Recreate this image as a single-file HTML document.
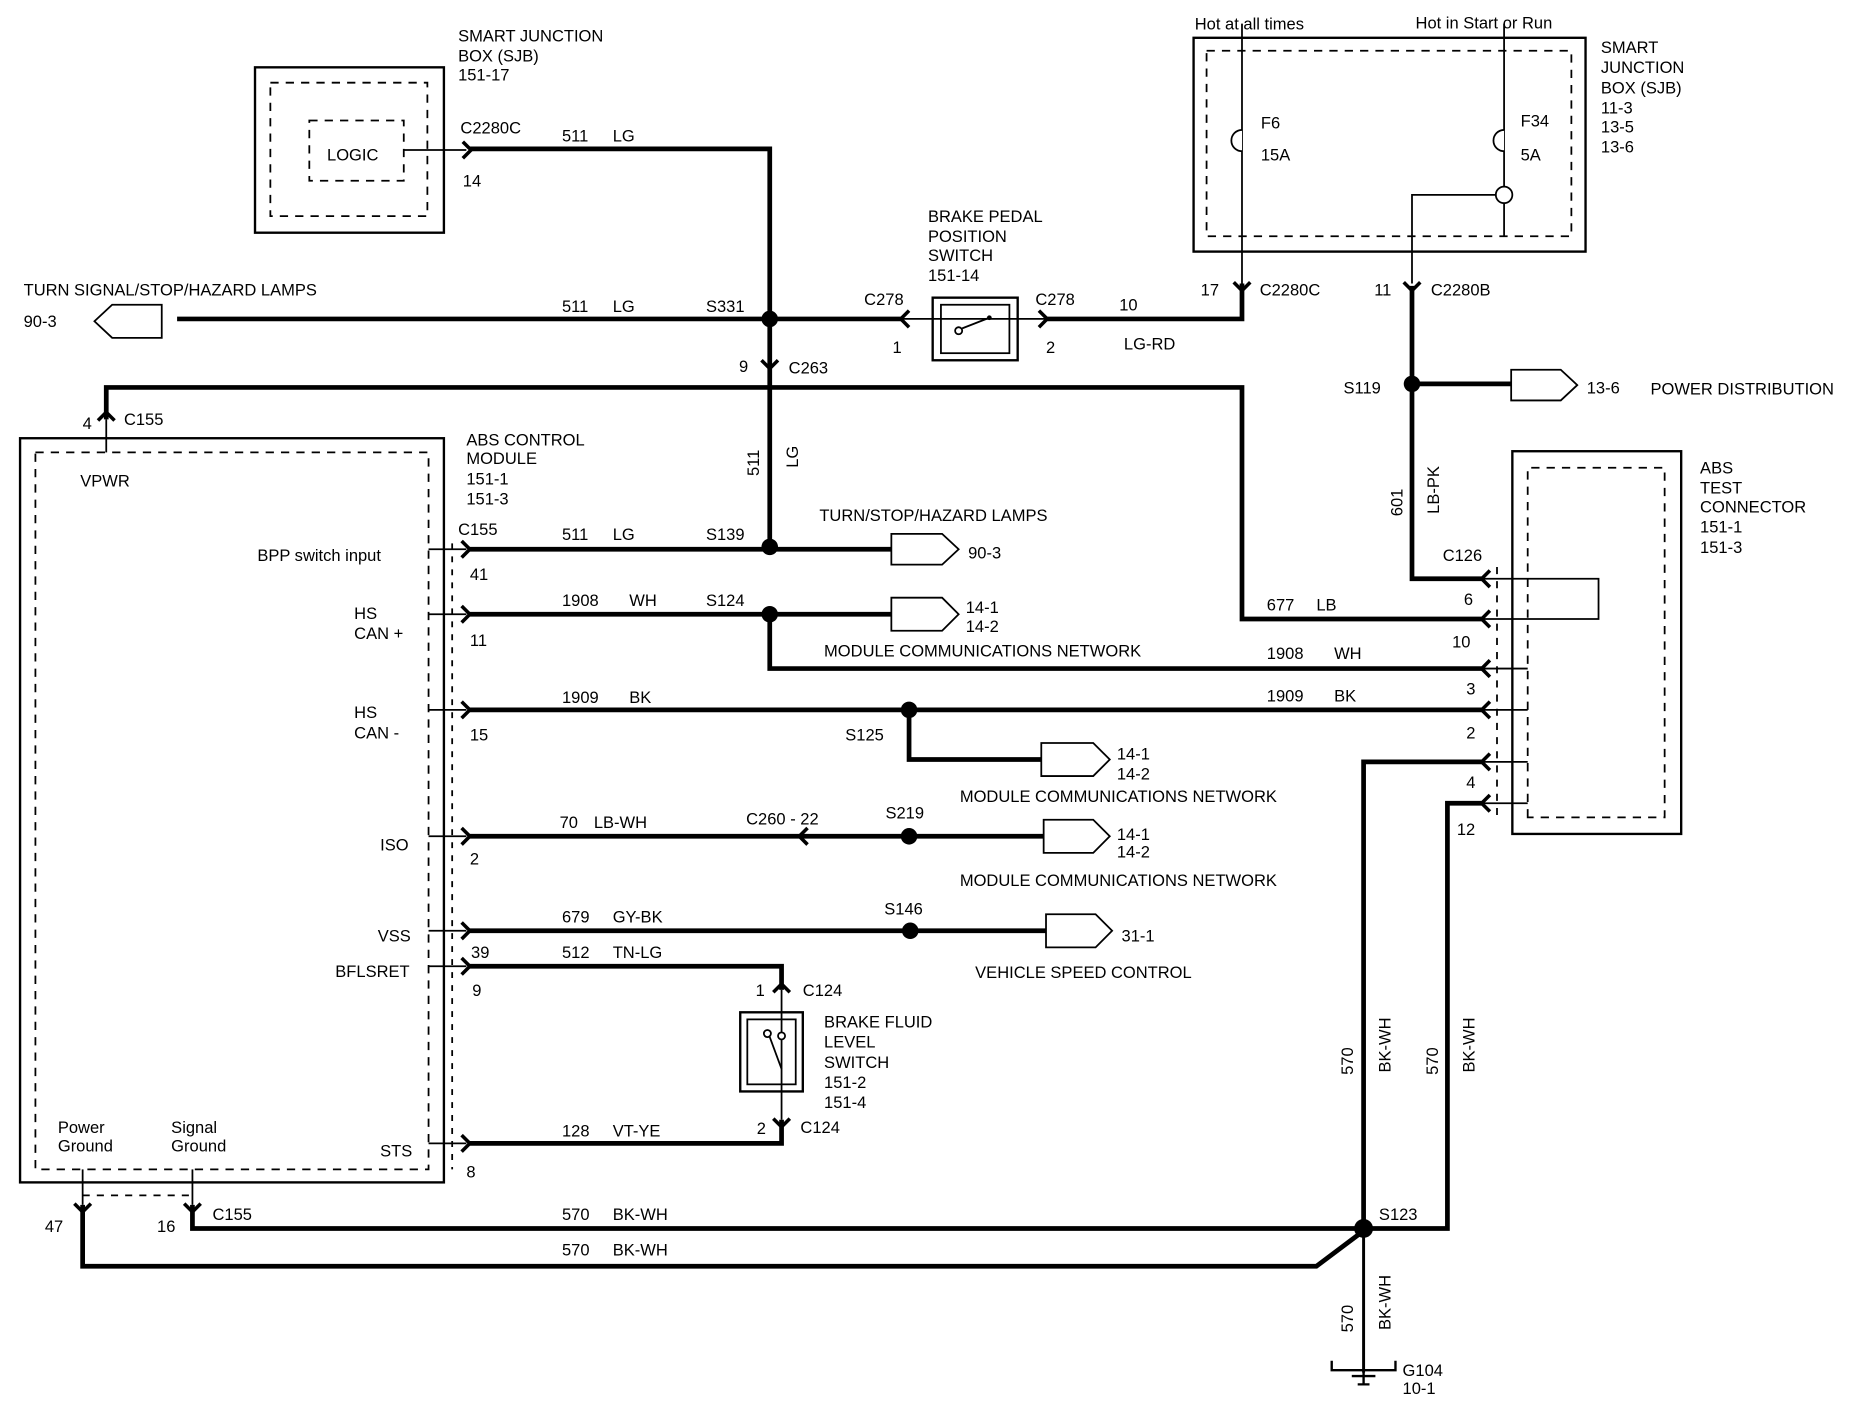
<!DOCTYPE html>
<html><head><meta charset="utf-8"><style>
html,body{margin:0;padding:0;background:#fff}
svg{display:block}
text{font-family:"Liberation Sans",Arial,sans-serif;font-size:14px;fill:#000}
</style></head><body>
<svg width="1850" height="1408" viewBox="0 0 1567 1192" preserveAspectRatio="none" xmlns="http://www.w3.org/2000/svg">
<defs>
<path id="cr" d="M-6,-7 L1,0 L-6,7" fill="none" stroke="#000" stroke-width="3"/>
</defs>
<g fill="none" stroke="#000">
<rect x="216" y="57" width="160" height="140" stroke-width="2"/>
<rect x="229" y="70" width="133" height="113" stroke-width="1.5" stroke-dasharray="7,6"/>
<rect x="262" y="102" width="80" height="51" stroke-width="1.5" stroke-dasharray="7,6"/>
<line x1="342" y1="127" x2="395" y2="127" stroke-width="1.5"/>
<polyline points="398,126 652,126 652,463" stroke-width="4"/>
<polygon points="137,258 137,286 95,286 80,272 95,258" stroke-width="1.5"/>
<line x1="150" y1="270" x2="765" y2="270" stroke-width="4"/>
<line x1="765" y1="270" x2="885" y2="270" stroke-width="1.5"/>
<polyline points="885,270 1052,270 1052,240" stroke-width="4"/>
<line x1="1052" y1="240" x2="1052" y2="20" stroke-width="1.5"/>
<rect x="790" y="252" width="72" height="53" stroke-width="2"/>
<rect x="797" y="258" width="58" height="41" stroke-width="1.5"/>
<circle cx="812" cy="280" r="3" stroke-width="1.5"/>
<line x1="815" y1="278" x2="838" y2="269" stroke-width="1.5"/>
<rect x="1011" y="32" width="332" height="181" stroke-width="2"/>
<rect x="1022" y="43" width="309" height="157" stroke-width="1.5" stroke-dasharray="7,6"/>
<path d="M1274,20 L1274,200" stroke-width="1.5"/>
<path d="M1274,110 A5,5 0 0,0 1274,128" stroke-width="1.5" fill="#fff"/>
<path d="M1052,110 A5,5 0 0,0 1052,128" stroke-width="1.5" fill="#fff"/>
<circle cx="1274" cy="165" r="7" stroke-width="1.5" fill="#fff"/>
<polyline points="1267,165 1196,165 1196,240" stroke-width="1.5"/>
<polyline points="1196,242 1196,490 1255,490" stroke-width="4"/>
<line x1="1196" y1="325" x2="1280" y2="325" stroke-width="4"/>
<polygon points="1280,313 1322,313 1336,326 1322,339 1280,339" stroke-width="1.5"/>
<polyline points="90,355 90,328 1052,328 1052,524 1255,524" stroke-width="4"/>
<line x1="90" y1="355" x2="90" y2="383" stroke-width="1.5"/>
<rect x="17" y="371" width="359" height="630" stroke-width="2"/>
<rect x="30" y="383" width="333" height="607" stroke-width="1.5" stroke-dasharray="7,6"/>
<line x1="383" y1="460" x2="383" y2="990" stroke-width="1.5" stroke-dasharray="5,6"/>
<g stroke-width="1.5">
<line x1="363" y1="465" x2="395" y2="465"/><line x1="363" y1="520" x2="395" y2="520"/>
<line x1="363" y1="601" x2="395" y2="601"/><line x1="363" y1="708" x2="395" y2="708"/>
<line x1="363" y1="788" x2="395" y2="788"/><line x1="363" y1="818" x2="395" y2="818"/>
<line x1="363" y1="968" x2="395" y2="968"/>
</g>
<g stroke-width="4">
<line x1="398" y1="465" x2="755" y2="465"/>
<line x1="398" y1="520" x2="755" y2="520"/>
<polyline points="652,520 652,566 1255,566"/>
<line x1="398" y1="601" x2="1255" y2="601"/>
<polyline points="770,601 770,643 882,643"/>
<line x1="398" y1="708" x2="884" y2="708"/>
<line x1="398" y1="788" x2="886" y2="788"/>
<polyline points="398,818 662,818 662,838"/>
<polyline points="662,948 662,968 398,968"/>
<polyline points="70,1020 70,1072 1115,1072 1155,1042"/>
<polyline points="163,1020 163,1040 1226,1040 1226,680 1255,680"/>
<polyline points="1155,1040 1155,645 1255,645"/>
</g>
<line x1="1155" y1="1040" x2="1155" y2="1162" stroke-width="2.5"/>
<path d="M1128,1152 L1128,1160 L1182,1160 L1182,1152 M1155,1160 L1155,1172 M1145,1165 L1165,1165 M1150,1172 L1160,1172" stroke-width="2"/>
<line x1="70" y1="990" x2="70" y2="1020" stroke-width="1.5"/>
<line x1="163" y1="990" x2="163" y2="1020" stroke-width="1.5"/>
<line x1="70" y1="1012" x2="163" y2="1012" stroke-width="1.5" stroke-dasharray="6,6"/>
<g stroke-width="1.5">
<polygon points="755,452 798,452 812,465 798,478 755,478"/>
<polygon points="755,506 798,506 812,520 798,534 755,534"/>
<polygon points="882,629 926,629 940,643 926,657 882,657"/>
<polygon points="884,694 926,694 940,708 926,722 884,722"/>
<polygon points="886,774 928,774 942,788 928,802 886,802"/>
</g>
<line x1="662" y1="838" x2="662" y2="948" stroke-width="1.5"/>
<rect x="627" y="857" width="53" height="67" stroke-width="2"/>
<rect x="633" y="863" width="41" height="55" stroke-width="1.5"/>
<circle cx="650" cy="875" r="3" fill="#fff" stroke-width="1.5"/>
<circle cx="662" cy="877" r="3" fill="#fff" stroke-width="1.5"/>
<line x1="652" y1="878" x2="662" y2="905" stroke-width="1.5"/>
<rect x="1281" y="382" width="143" height="324" stroke-width="2"/>
<path d="M1294,692 L1294,396 L1410,396 L1410,692 Z" stroke-width="1.5" stroke-dasharray="7,6"/>
<line x1="1268" y1="480" x2="1268" y2="690" stroke-width="1.5" stroke-dasharray="6,6"/>
<polyline points="1255,490 1354,490 1354,524 1255,524" stroke-width="1.5"/>
<line x1="1255" y1="566" x2="1294" y2="566" stroke-width="1.5"/>
<line x1="1255" y1="601" x2="1294" y2="601" stroke-width="1.5"/>
<line x1="1255" y1="645" x2="1294" y2="645" stroke-width="1.5"/>
<line x1="1255" y1="680" x2="1294" y2="680" stroke-width="1.5"/>
</g>
<g fill="#000">
<circle cx="652" cy="270" r="7"/><circle cx="652" cy="463" r="7"/><circle cx="652" cy="520" r="7"/>
<circle cx="770" cy="601" r="7"/><circle cx="770" cy="708" r="7"/><circle cx="771" cy="788" r="7"/>
<circle cx="1196" cy="325" r="7"/><circle cx="1155" cy="1040" r="8"/>
<circle cx="838" cy="269" r="2"/>
</g>
<use href="#cr" transform="translate(398,127)"/>
<use href="#cr" transform="translate(764,270) rotate(180)"/>
<use href="#cr" transform="translate(886,270)"/>
<use href="#cr" transform="translate(652,311) rotate(90)"/>
<use href="#cr" transform="translate(1052,245) rotate(90)"/>
<use href="#cr" transform="translate(1196,245) rotate(90)"/>
<use href="#cr" transform="translate(90,350) rotate(-90)"/>
<use href="#cr" transform="translate(397,465)"/>
<use href="#cr" transform="translate(397,520)"/>
<use href="#cr" transform="translate(397,601)"/>
<use href="#cr" transform="translate(397,708)"/>
<use href="#cr" transform="translate(397,788)"/>
<use href="#cr" transform="translate(397,818)"/>
<use href="#cr" transform="translate(397,968)"/>
<use href="#cr" transform="translate(678,708) rotate(180)"/>
<use href="#cr" transform="translate(662,834) rotate(-90)"/>
<use href="#cr" transform="translate(662,953) rotate(90)"/>
<use href="#cr" transform="translate(70,1025) rotate(90)"/>
<use href="#cr" transform="translate(163,1025) rotate(90)"/>
<use href="#cr" transform="translate(1256,490) rotate(180)"/>
<use href="#cr" transform="translate(1256,524) rotate(180)"/>
<use href="#cr" transform="translate(1256,566) rotate(180)"/>
<use href="#cr" transform="translate(1256,601) rotate(180)"/>
<use href="#cr" transform="translate(1256,645) rotate(180)"/>
<use href="#cr" transform="translate(1256,680) rotate(180)"/>
<text x="388" y="35">SMART  JUNCTION</text><text x="388" y="52">BOX (SJB)</text><text x="388" y="68">151-17</text>
<text x="277" y="136">LOGIC</text>
<text x="390" y="113">C2280C</text><text x="392" y="158">14</text>
<text x="476" y="120">511</text><text x="519" y="120">LG</text>
<text x="20" y="250">TURN SIGNAL/STOP/HAZARD LAMPS</text><text x="20" y="277">90-3</text>
<text x="476" y="264">511</text><text x="519" y="264">LG</text><text x="598" y="264">S331</text>
<text x="786" y="188">BRAKE PEDAL</text><text x="786" y="205">POSITION</text><text x="786" y="221">SWITCH</text><text x="786" y="238">151-14</text>
<text x="732" y="258">C278</text><text x="756" y="299">1</text><text x="877" y="258">C278</text><text x="886" y="299">2</text>
<text x="948" y="263">10</text><text x="952" y="296">LG-RD</text>
<text x="1017" y="250">17</text><text x="1067" y="250">C2280C</text>
<text x="1164" y="250">11</text><text x="1212" y="250">C2280B</text>
<text x="1012" y="25">Hot at all times</text><text x="1199" y="24">Hot in Start or Run</text>
<text x="1356" y="45">SMART</text><text x="1356" y="62">JUNCTION</text><text x="1356" y="79">BOX (SJB)</text><text x="1356" y="96">11-3</text><text x="1356" y="112">13-5</text><text x="1356" y="129">13-6</text>
<text x="1068" y="109">F6</text><text x="1068" y="136">15A</text><text x="1288" y="107">F34</text><text x="1288" y="136">5A</text>
<text x="1138" y="333">S119</text><text x="1344" y="333">13-6</text><text x="1398" y="334">POWER DISTRIBUTION</text>
<text x="626" y="315">9</text><text x="668" y="316">C263</text>
<text x="70" y="363">4</text><text x="105" y="360">C155</text>
<text x="68" y="412">VPWR</text>
<text x="395" y="377">ABS  CONTROL</text><text x="395" y="393">MODULE</text><text x="395" y="410">151-1</text><text x="395" y="427">151-3</text>
<text transform="translate(643,403) rotate(-90)">511</text><text transform="translate(676,396) rotate(-90)">LG</text>
<text transform="translate(1188,437) rotate(-90)">601</text><text transform="translate(1219,435) rotate(-90)">LB-PK</text>
<text x="218" y="475">BPP switch input</text>
<text x="388" y="453">C155</text><text x="398" y="491">41</text>
<text x="476" y="457">511</text><text x="519" y="457">LG</text><text x="598" y="457">S139</text>
<text x="694" y="441">TURN/STOP/HAZARD LAMPS</text><text x="820" y="473">90-3</text>
<text x="300" y="524">HS</text><text x="300" y="541">CAN +</text><text x="398" y="547">11</text>
<text x="476" y="513">1908</text><text x="533" y="513">WH</text><text x="598" y="513">S124</text>
<text x="818" y="519">14-1</text><text x="818" y="535">14-2</text>
<text x="698" y="556">MODULE COMMUNICATIONS NETWORK</text>
<text x="1073" y="558">1908</text><text x="1130" y="558">WH</text>
<text x="300" y="608">HS</text><text x="300" y="625">CAN -</text><text x="398" y="627">15</text>
<text x="476" y="595">1909</text><text x="533" y="595">BK</text>
<text x="1073" y="594">1909</text><text x="1130" y="594">BK</text>
<text x="716" y="627">S125</text>
<text x="946" y="643">14-1</text><text x="946" y="660">14-2</text>
<text x="813" y="679">MODULE COMMUNICATIONS NETWORK</text>
<text x="322" y="720">ISO</text><text x="398" y="732">2</text>
<text x="474" y="701">70</text><text x="503" y="701">LB-WH</text>
<text x="632" y="698">C260  - 22</text><text x="750" y="693">S219</text>
<text x="946" y="711">14-1</text><text x="946" y="726">14-2</text>
<text x="813" y="750">MODULE COMMUNICATIONS NETWORK</text>
<text x="320" y="797">VSS</text>
<text x="476" y="781">679</text><text x="519" y="781">GY-BK</text><text x="749" y="774">S146</text>
<text x="950" y="797">31-1</text><text x="826" y="828">VEHICLE SPEED CONTROL</text>
<text x="399" y="811">39</text><text x="284" y="827">BFLSRET</text><text x="400" y="843">9</text>
<text x="476" y="811">512</text><text x="519" y="811">TN-LG</text>
<text x="640" y="843">1</text><text x="680" y="843">C124</text>
<text x="698" y="870">BRAKE FLUID</text><text x="698" y="887">LEVEL</text><text x="698" y="904">SWITCH</text><text x="698" y="921">151-2</text><text x="698" y="938">151-4</text>
<text x="641" y="960">2</text><text x="678" y="959">C124</text>
<text x="322" y="979">STS</text><text x="395" y="997">8</text>
<text x="476" y="962">128</text><text x="519" y="962">VT-YE</text>
<text x="49" y="959">Power</text><text x="49" y="975">Ground</text><text x="145" y="959">Signal</text><text x="145" y="975">Ground</text>
<text x="38" y="1043">47</text><text x="133" y="1043">16</text><text x="180" y="1033">C155</text>
<text x="476" y="1033">570</text><text x="519" y="1033">BK-WH</text>
<text x="476" y="1063">570</text><text x="519" y="1063">BK-WH</text>
<text x="1168" y="1033">S123</text>
<text transform="translate(1146,910) rotate(-90)">570</text><text transform="translate(1178,908) rotate(-90)">BK-WH</text>
<text transform="translate(1218,910) rotate(-90)">570</text><text transform="translate(1249,908) rotate(-90)">BK-WH</text>
<text transform="translate(1146,1128) rotate(-90)">570</text><text transform="translate(1178,1126) rotate(-90)">BK-WH</text>
<text x="1188" y="1165">G104</text><text x="1188" y="1180">10-1</text>
<text x="1222" y="475">C126</text><text x="1240" y="512">6</text><text x="1230" y="548">10</text><text x="1242" y="588">3</text><text x="1242" y="625">2</text><text x="1242" y="667">4</text><text x="1234" y="707">12</text>
<text x="1440" y="401">ABS</text><text x="1440" y="418">TEST</text><text x="1440" y="434">CONNECTOR</text><text x="1440" y="451">151-1</text><text x="1440" y="468">151-3</text>
<text x="1073" y="517">677</text><text x="1115" y="517">LB</text>
</svg>
</body></html>
